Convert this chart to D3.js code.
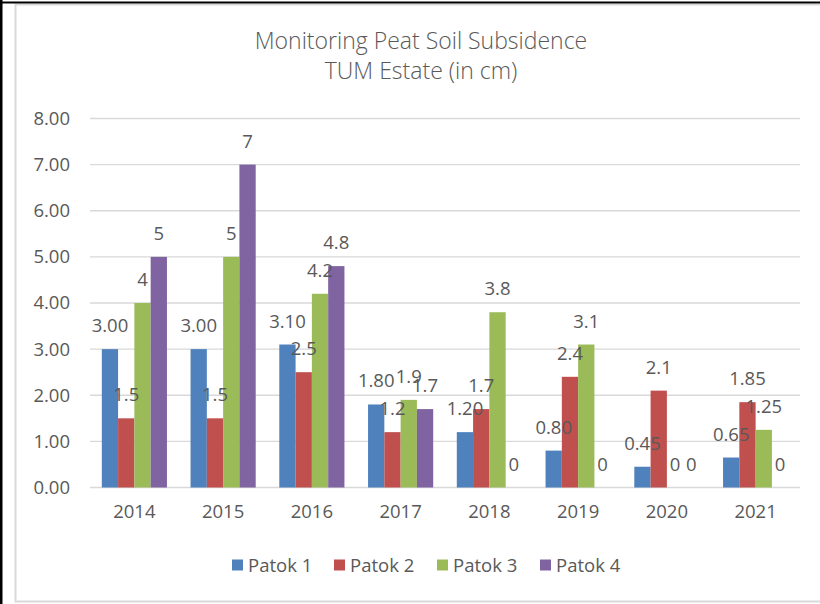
<!DOCTYPE html>
<html>
<head>
<meta charset="utf-8">
<title>Monitoring Peat Soil Subsidence</title>
<style>
  body { margin: 0; background: #fff; }
  text { font-family: "Open Sans", sans-serif; fill: #595959; }
</style>
</head>
<body>
<script src="https://cdn.jsdelivr.net/npm/d3@7/dist/d3.min.js"></script>
<script>

// chart data
var years = ["2014", "2015", "2016", "2017", "2018", "2019", "2020", "2021"];
var seriesNames = ["Patok 1", "Patok 2", "Patok 3", "Patok 4"];
var patok1 = [3.00, 3.00, 3.10, 1.80, 1.20, 0.80, 0.45, 0.65];
var patok2 = [1.5, 1.5, 2.5, 1.2, 1.7, 2.4, 2.1, 1.85];
var patok3 = [4, 5, 4.2, 1.9, 3.8, 3.1, 0, 1.25];
var patok4 = [5, 7, 4.8, 1.7, 0, 0, 0, 0];
var yTicks = [0, 1, 2, 3, 4, 5, 6, 7, 8];

var seriesValues = [patok1, patok2, patok3, patok4];
var colors = d3.scaleOrdinal()
  .domain(seriesNames)
  .range(["#4F81BD", "#C0504D", "#9BBB59", "#8064A2"]);

// patok 1 labels use two decimals, the others use general format
var labelFormats = [d3.format(".2f"), String, String, String];

var W = 820, H = 604;
var svg = d3.select("body").append("svg")
  .attr("width", W)
  .attr("height", H);

// outer frame
svg.append("rect").attr("x", 0).attr("y", 0).attr("width", W).attr("height", H).attr("fill", "#fff");
svg.append("rect")
  .attr("x", 15.5).attr("y", 4.5).attr("width", 820).attr("height", 597)
  .attr("fill", "none").attr("stroke", "#d9d9d9").attr("stroke-width", 2);
svg.append("rect").attr("x", 0).attr("y", 0).attr("width", 2.5).attr("height", H).attr("fill", "#000");
svg.append("rect").attr("x", 0).attr("y", 1.5).attr("width", W).attr("height", 2).attr("fill", "#000");

// title
var title = svg.append("text")
  .attr("text-anchor", "middle")
  .style("font-size", "23px")
  .style("font-weight", "300");
title.append("tspan").attr("x", 421).attr("y", 49).text("Monitoring Peat Soil Subsidence");
title.append("tspan").attr("x", 421).attr("y", 79).text("TUM Estate (in cm)");

// scales
var yScale = d3.scaleLinear().domain([0, 8]).range([487.5, 118.5]);

var x0 = d3.scaleBand().domain(years).range([90, 800]);
var x1 = d3.scaleBand().domain(seriesNames)
  .range([11.8, x0.bandwidth() - 11.8]);

// gridlines
svg.append("g")
  .selectAll("line")
  .data(yTicks)
  .enter()
  .append("line")
  .attr("x1", 90).attr("x2", 800)
  .attr("y1", function(d){ return yScale(d); })
  .attr("y2", function(d){ return yScale(d); })
  .attr("stroke", "#d9d9d9")
  .attr("stroke-width", 1.3);

// y axis labels
var yAxis = svg.append("g")
  .attr("transform", "translate(90,0)")
  .call(d3.axisLeft(yScale).tickValues(yTicks).tickFormat(d3.format(".2f")).tickSize(0).tickPadding(20));
yAxis.select(".domain").remove();
yAxis.selectAll("text").style("font-size", "18.5px").style("fill", "#595959").attr("font-family", null);

// one record per bar
var rows = seriesNames.map(function(name, s){
  return years.map(function(yr, i){
    return { series: name, s: s, year: yr, value: seriesValues[s][i] };
  });
});
var flat = d3.merge(rows);

// bars
svg.append("g")
  .selectAll("g")
  .data(rows)
  .enter()
  .append("g")
  .attr("fill", function(d){ return colors(d[0].series); })
  .selectAll("rect")
  .data(function(d){ return d; })
  .enter()
  .append("rect")
  .attr("x", function(d){ return x0(d.year) + x1(d.series); })
  .attr("y", function(d){ return yScale(d.value); })
  .attr("width", x1.bandwidth())
  .attr("height", function(d){ return yScale(0) - yScale(d.value); });

// data labels, on top of every bar
svg.append("g")
  .selectAll("text")
  .data(flat)
  .enter()
  .append("text")
  .attr("x", function(d){ return x0(d.year) + x1(d.series) + x1.bandwidth() / 2; })
  .attr("y", function(d){ return yScale(d.value) - 17; })
  .attr("text-anchor", "middle")
  .style("font-size", "18.5px")
  .text(function(d){ return labelFormats[d.s](d.value); });

// x axis labels
var xAxis = svg.append("g")
  .attr("transform", "translate(0," + yScale(0) + ")")
  .call(d3.axisBottom(x0).tickSize(0).tickPadding(17));
xAxis.select(".domain").remove();
xAxis.selectAll("text").style("font-size", "18.5px").style("fill", "#595959").attr("font-family", null);

// legend
var legendX = [232, 334, 437, 540];
var legend = svg.append("g")
  .selectAll("g")
  .data(seriesNames)
  .enter()
  .append("g")
  .attr("transform", function(d, i){ return "translate(" + legendX[i] + ",565)"; });

legend.append("rect")
  .attr("x", 0).attr("y", -5.5)
  .attr("width", 11).attr("height", 11)
  .attr("fill", function(d){ return colors(d); });

legend.append("text")
  .attr("x", 16)
  .attr("y", 6.5)
  .style("font-size", "18.5px")
  .text(function(d){ return d; });

</script>
</body>
</html>
